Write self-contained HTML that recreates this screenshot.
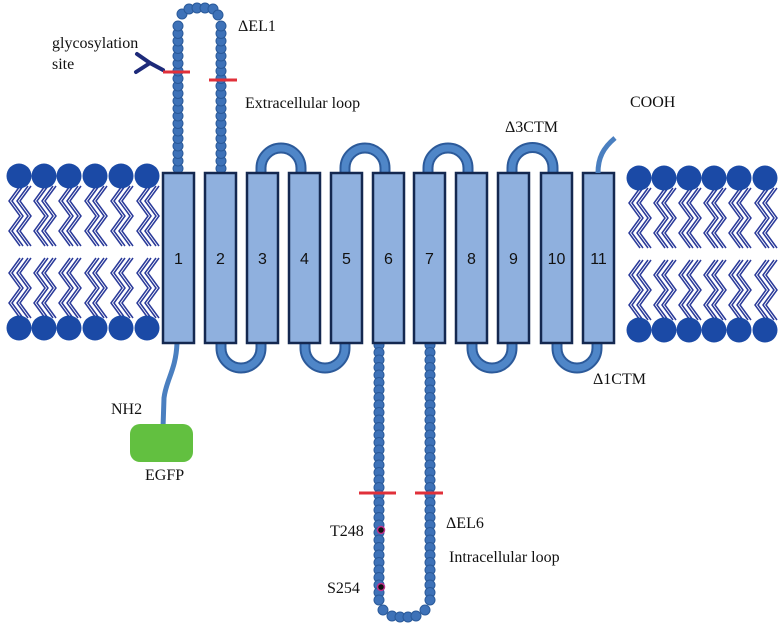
<!DOCTYPE html>
<html><head><meta charset="utf-8"><style>
html,body{margin:0;padding:0;background:#fff;}
svg{display:block;}
text{font-family:"Liberation Serif",serif;font-size:16px;fill:#111;}
.num{font-family:"Liberation Sans",sans-serif;font-size:16px;}
</style></head><body>
<svg id="s" width="782" height="628" viewBox="0 0 782 628" xmlns="http://www.w3.org/2000/svg">
<g id="lip"></g>
<g id="loops" fill="none" stroke-linecap="butt"></g>
<g id="beads"></g>
<path d="M177 343 C176 370 166 380 164 398 L163 428" fill="none" stroke="#4a7fc0" stroke-width="5"/>
<g id="boxes"></g>
<rect x="130" y="424" width="63" height="38" rx="10" fill="#62c040"/>
<path d="M598 173 C598 158 603 148 615 138" fill="none" stroke="#4a7fc0" stroke-width="5"/>
<path d="M163 70 L150 63 L137 54 M150 63 L136 72" fill="none" stroke="#1d2a7a" stroke-width="4" stroke-linecap="round"/>
<g stroke="#e0303a" stroke-width="3">
<line x1="163" y1="72" x2="190" y2="72"/><line x1="209" y1="80" x2="237" y2="80"/>
<line x1="359" y1="493" x2="396" y2="493"/><line x1="415" y1="493" x2="443" y2="493"/>
</g>
<circle cx="381" cy="530" r="3.5" fill="#111" stroke="#c0308a" stroke-width="1.5"/>
<circle cx="381" cy="587" r="3.5" fill="#111" stroke="#c0308a" stroke-width="1.5"/>
<text x="52" y="48">glycosylation</text>
<text x="52" y="69">site</text>
<text x="238" y="31">ΔEL1</text>
<text x="245" y="108">Extracellular loop</text>
<text x="630" y="107">COOH</text>
<text x="505" y="132">Δ3CTM</text>
<text x="593" y="384">Δ1CTM</text>
<text x="111" y="414">NH2</text>
<text x="145" y="480">EGFP</text>
<text x="330" y="536">T248</text>
<text x="327" y="593">S254</text>
<text x="446" y="528">ΔEL6</text>
<text x="449" y="562">Intracellular loop</text>
</svg>
<script>
var NS="http://www.w3.org/2000/svg";
function el(p,t,a){var e=document.createElementNS(NS,t);for(var k in a)e.setAttribute(k,a[k]);p.appendChild(e);return e;}
var lip=document.getElementById('lip');
function tails(cx,y0,y1){
 var n=4,h=(y1-y0)/n;
 for(var off=-3;off<=5;off+=8){
  for(var k=0;k<2;k++){
   var x=cx+off+k*3;
   var d="M"+x+" "+y0;
   for(var i=1;i<=n;i++){d+=" L"+(x+(i%2?-11:0))+" "+(y0+i*h);}
   el(lip,'path',{d:d,fill:'none',stroke:'#2a3a9a','stroke-width':1.5});
  }
 }
}
function lipids(xs,yt,yb){
 xs.forEach(function(cx){
  tails(cx+4,yt+10,(yt+yb)/2-6);
  tails(cx+4,(yt+yb)/2+6,yb-10);
 });
 xs.forEach(function(cx){el(lip,'circle',{cx:cx,cy:yt,r:12.5,fill:'#1b4aa6'});el(lip,'circle',{cx:cx,cy:yb,r:12.5,fill:'#1b4aa6'});});
}
lipids([19,44,69,95,121,147],176,328);
lipids([639,664,689,714,739,765],178,330);
var loops=document.getElementById('loops');
function loop(x1,x2,up){
 var r=(x2-x1)/2,d;
 if(up) d="M"+x1+" 180 L"+x1+" 168 A"+r+" "+r+" 0 0 1 "+x2+" 168 L"+x2+" 180";
 else d="M"+x1+" 336 L"+x1+" 348 A"+r+" "+r+" 0 0 0 "+x2+" 348 L"+x2+" 336";
 el(loops,'path',{d:d,stroke:'#2c5a9a','stroke-width':11});
 el(loops,'path',{d:d,stroke:'#4f86c8','stroke-width':7});
}
var bx=[162,204,246,288,330,372,413,455,497,540,582];
function cx(i){return bx[i]+16;}
[[2,3],[4,5],[6,7],[8,9]].forEach(function(p){loop(cx(p[0])-1,cx(p[1])-3,true);});
[[1,2],[3,4],[7,8],[9,10]].forEach(function(p){loop(cx(p[0])+1,cx(p[1])-1,false);});
var beads=document.getElementById('beads');
function bead(x,y){el(beads,'circle',{cx:x,cy:y,r:5,fill:'#3e72b8',stroke:'#2a5a9a','stroke-width':1});}
for(var y=176;y>=22;y-=7.5){bead(178,y);bead(221,y);}
bead(182,14);bead(189,9);bead(197,8);bead(205,8);bead(213,9);bead(218,15);
for(var y=345;y<=604;y+=7.5){bead(379,y);bead(430,y);}
bead(383,610);bead(392,616);bead(400,617);bead(408,617);bead(416,616);bead(425,610);
var boxes=document.getElementById('boxes');
bx.forEach(function(x,i){
 el(boxes,'rect',{x:x+1,y:173,width:31,height:170,fill:'#8fb0de',stroke:'#142850','stroke-width':2.5});
 var t=el(boxes,'text',{x:x+16.5,y:264,'text-anchor':'middle','class':'num'});t.textContent=(i+1);
});
</script>
</body></html>
